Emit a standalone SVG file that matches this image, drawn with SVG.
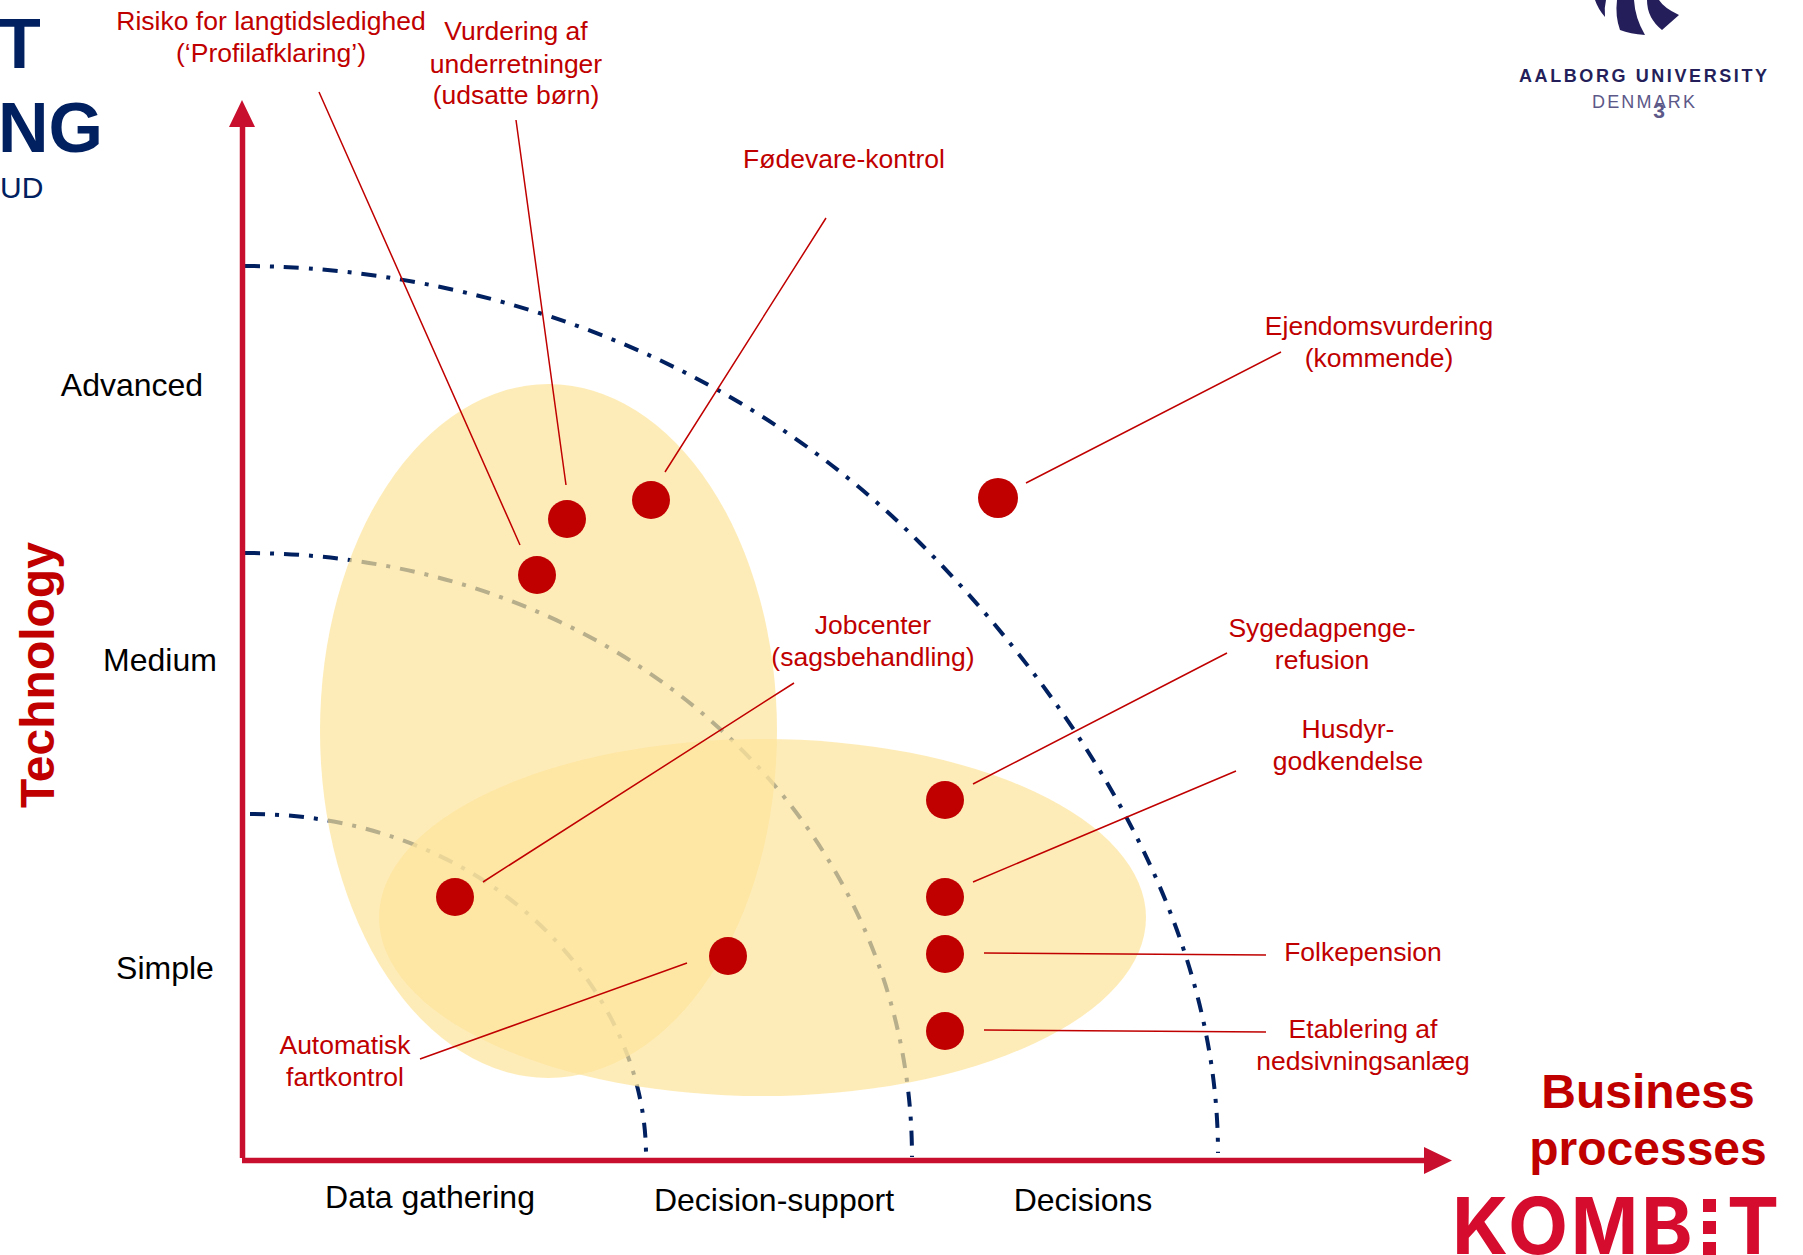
<svg xmlns="http://www.w3.org/2000/svg" width="1803" height="1255" viewBox="0 0 1803 1255">
<style>
text{font-family:"Liberation Sans",Arial,sans-serif}
.l{font-size:26.5px;fill:#c00000;text-anchor:middle}
.k{font-size:32px;fill:#000;text-anchor:middle}
.h{font-weight:bold;fill:#c00000;text-anchor:middle;font-size:48px}
.t{font-weight:bold;fill:#002060;font-size:70px}
.c{fill:none;stroke:#002060;stroke-width:4;stroke-dasharray:15 10 4 10}
.e{fill:#fde59c;fill-opacity:.72}
.d{fill:#c00000}
.n{stroke:#c00000;stroke-width:1.5;fill:none}
.a{stroke:#c8102e;stroke-width:5.5;fill:none}
.au{fill:#241f5a;font-weight:bold;font-size:18px}
.ko{font-family:Inter,"Liberation Sans",sans-serif;font-weight:700;font-size:78px}
</style>
<g id="title"><text class="t" x="-2" y="68">T</text><text class="t" x="-2" y="152">NG</text><text x="0" y="198" font-size="30" fill="#002060">UD</text></g>
<g id="logo-aau"><path d="M1595 0L1606 0Q1604 8 1605 17Q1598 9 1595 0ZM1617 0L1634 0Q1635 18 1645 35Q1630 34 1620 30Q1615 16 1617 0ZM1647 0L1659 0Q1664 8 1679 15L1662 30Q1647 18 1647 0Z" fill="#241f5a"/><text class="au" x="1519" y="82" textLength="248">AALBORG UNIVERSITY</text><text x="1592" y="108" font-size="18" fill="#5c5888" textLength="103">DENMARK</text><text x="1659" y="118" font-size="21" font-weight="bold" fill="#5c5888" text-anchor="middle">3</text></g>
<g id="curves"><path class="c" d="M245 266C397 266 687 310 920 543C1003 626 1218 865 1218 1153"/><path class="c" d="M245 553C626 553 912 824 912 1157"/><path class="c" d="M250 814C487 814 646 988 646 1155"/></g>
<g id="regions"><ellipse class="e" cx="548.500" cy="731" rx="228.500" ry="347"/><ellipse class="e" cx="762.500" cy="917.500" rx="383.500" ry="178.500"/></g>
<g id="connectors">
<path class="n" d="M319 92L520 545M516 120L566 485M826 218L665 472M1281 352L1026 483M794 683L483 882M1227 653L973 784M1236 771L973 882M984 953L1266 955M984 1030L1266 1032M687 963L420 1059"/>
<path class="a" d="M242.500 1158V120M242 1160.500H1428"/>
<path d="M242 100L229 127H255ZM1452 1160.500L1424 1147V1174Z" fill="#c8102e"/>
</g>
<g id="dots"><circle class="d" cx="567" cy="519" r="19"/><circle class="d" cx="651" cy="500" r="19"/><circle class="d" cx="537" cy="575" r="19"/><circle class="d" cx="998" cy="498" r="20"/><circle class="d" cx="945" cy="800" r="19"/><circle class="d" cx="945" cy="897" r="19"/><circle class="d" cx="945" cy="954" r="19"/><circle class="d" cx="945" cy="1031" r="19"/><circle class="d" cx="455" cy="897" r="19"/><circle class="d" cx="728" cy="956" r="19"/></g>
<g id="labels">
<text class="l" x="271" y="30">Risiko for langtidsledighed</text><text class="l" x="271" y="62">(‘Profilafklaring’)</text>
<text class="l" x="516" y="40">Vurdering af</text><text class="l" x="516" y="73">underretninger</text><text class="l" x="516" y="104">(udsatte børn)</text>
<text class="l" x="844" y="168">Fødevare-kontrol</text>
<text class="l" x="1379" y="335">Ejendomsvurdering</text><text class="l" x="1379" y="367">(kommende)</text>
<text class="l" x="873" y="634">Jobcenter</text><text class="l" x="873" y="666">(sagsbehandling)</text>
<text class="l" x="1322" y="637">Sygedagpenge-</text><text class="l" x="1322" y="669">refusion</text>
<text class="l" x="1348" y="738">Husdyr-</text><text class="l" x="1348" y="770">godkendelse</text>
<text class="l" x="1363" y="961">Folkepension</text>
<text class="l" x="1363" y="1038">Etablering af</text><text class="l" x="1363" y="1070">nedsivningsanlæg</text>
<text class="l" x="345" y="1054">Automatisk</text><text class="l" x="345" y="1086">fartkontrol</text>
</g>
<g id="axis-labels">
<text class="k" x="132" y="396">Advanced</text><text class="k" x="160" y="671">Medium</text><text class="k" x="165" y="979">Simple</text>
<text class="k" x="430" y="1208">Data gathering</text><text class="k" x="774" y="1211">Decision-support</text><text class="k" x="1083" y="1211">Decisions</text>
<text class="h" transform="translate(54 675) rotate(-90)">Technology</text>
<text class="h" x="1648" y="1108">Business</text><text class="h" x="1648" y="1165">processes</text>
</g>
<g id="logo-kombit" fill="#d50c2d"><text class="ko" x="1452 1508" y="1254">KO</text><text class="ko" x="1571" y="1254" textLength="67" lengthAdjust="spacingAndGlyphs">M</text><text class="ko" x="1641" y="1254">B</text><rect x="1703" y="1199" width="13" height="13"/><rect x="1703" y="1221" width="13" height="13"/><rect x="1703" y="1242" width="13" height="13"/><text class="ko" x="1727" y="1254">T</text></g>
</svg>
